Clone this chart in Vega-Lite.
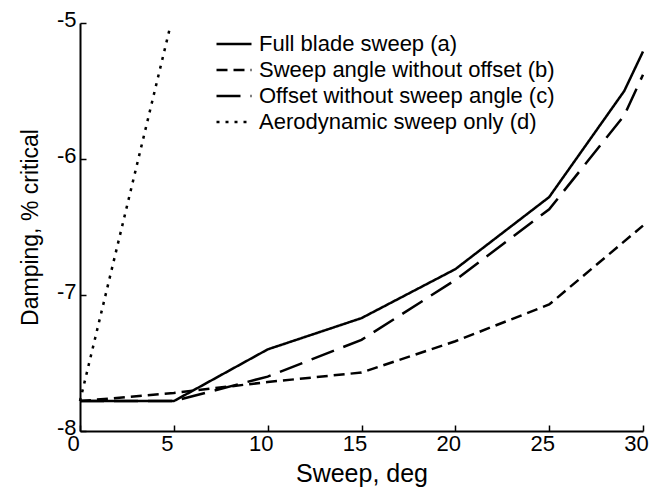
{
  "$schema": "https://vega.github.io/schema/vega-lite/v6.json",
  "width": 563,
  "height": 408,
  "autosize": "none",
  "padding": {"left": 80, "top": 23, "right": 9, "bottom": 60},
  "background": "white",
  "config": {"view": {"stroke": null}, "font": "Liberation Sans"},
  "data": {
    "values": [
      {"series": "Full blade sweep (a)", "sweep": 0, "damping": -7.78},
      {"series": "Full blade sweep (a)", "sweep": 5, "damping": -7.78},
      {"series": "Full blade sweep (a)", "sweep": 10, "damping": -7.4},
      {"series": "Full blade sweep (a)", "sweep": 15, "damping": -7.17},
      {"series": "Full blade sweep (a)", "sweep": 20, "damping": -6.81},
      {"series": "Full blade sweep (a)", "sweep": 25, "damping": -6.28},
      {"series": "Full blade sweep (a)", "sweep": 29, "damping": -5.5},
      {"series": "Full blade sweep (a)", "sweep": 30, "damping": -5.21},
      {"series": "Sweep angle without offset (b)", "sweep": 0, "damping": -7.78},
      {"series": "Sweep angle without offset (b)", "sweep": 5, "damping": -7.72},
      {"series": "Sweep angle without offset (b)", "sweep": 10, "damping": -7.64},
      {"series": "Sweep angle without offset (b)", "sweep": 15, "damping": -7.57},
      {"series": "Sweep angle without offset (b)", "sweep": 20, "damping": -7.34},
      {"series": "Sweep angle without offset (b)", "sweep": 25, "damping": -7.07},
      {"series": "Sweep angle without offset (b)", "sweep": 30, "damping": -6.49},
      {"series": "Offset without sweep angle (c)", "sweep": 0, "damping": -7.78},
      {"series": "Offset without sweep angle (c)", "sweep": 5, "damping": -7.78},
      {"series": "Offset without sweep angle (c)", "sweep": 10, "damping": -7.6},
      {"series": "Offset without sweep angle (c)", "sweep": 15, "damping": -7.33},
      {"series": "Offset without sweep angle (c)", "sweep": 20, "damping": -6.89},
      {"series": "Offset without sweep angle (c)", "sweep": 25, "damping": -6.37},
      {"series": "Offset without sweep angle (c)", "sweep": 29, "damping": -5.68},
      {"series": "Offset without sweep angle (c)", "sweep": 30, "damping": -5.38},
      {"series": "Aerodynamic sweep only (d)", "sweep": 0, "damping": -7.78},
      {"series": "Aerodynamic sweep only (d)", "sweep": 4.8, "damping": -5.03}
    ]
  },
  "mark": {"type": "line", "color": "black", "strokeWidth": 2.5},
  "encoding": {
    "x": {
      "field": "sweep",
      "type": "quantitative",
      "scale": {"domain": [0, 30], "nice": false, "zero": false},
      "axis": {
        "values": [0, 5, 10, 15, 20, 25, 30],
        "grid": false,
        "tickSize": -6,
        "tickWidth": 1.5,
        "tickColor": "black",
        "domainColor": "black",
        "domainWidth": 2,
        "labelFontSize": 22,
        "labelColor": "black",
        "labelOffset": -7,
        "labelPadding": 8,
        "labelFlush": false,
        "title": "Sweep, deg",
        "titleFontSize": 25,
        "titleFontWeight": "normal",
        "titleColor": "black",
        "titlePadding": 7
      }
    },
    "y": {
      "field": "damping",
      "type": "quantitative",
      "scale": {"domain": [-8, -5], "nice": false, "zero": false},
      "axis": {
        "values": [-8, -7, -6, -5],
        "labelExpr": "toString(datum.value)",
        "grid": false,
        "tickSize": -6,
        "tickWidth": 1.5,
        "tickColor": "black",
        "domainColor": "black",
        "domainWidth": 2,
        "labelFontSize": 22,
        "labelColor": "black",
        "labelPadding": 10,
        "labelOffset": -4,
        "labelFlush": false,
        "title": "Damping, % critical",
        "titleFontSize": 23,
        "titleFontWeight": "normal",
        "titleColor": "black",
        "titlePadding": 14
      }
    },
    "strokeDash": {
      "field": "series",
      "type": "nominal",
      "scale": {
        "domain": ["Full blade sweep (a)", "Sweep angle without offset (b)", "Offset without sweep angle (c)", "Aerodynamic sweep only (d)"],
        "range": [[1, 0], [11, 6], [24, 10], [3, 6]]
      },
      "legend": {
        "title": null,
        "orient": "none",
        "legendX": 135,
        "legendY": 8,
        "symbolType": "stroke",
        "symbolSize": 1225,
        "symbolStrokeWidth": 2.5,
        "symbolStrokeColor": "black",
        "labelFontSize": 22,
        "labelColor": "black",
        "labelOffset": 6,
        "rowPadding": 0,
        "labelLimit": 400,
        "clipHeight": 26
      }
    }
  }
}
